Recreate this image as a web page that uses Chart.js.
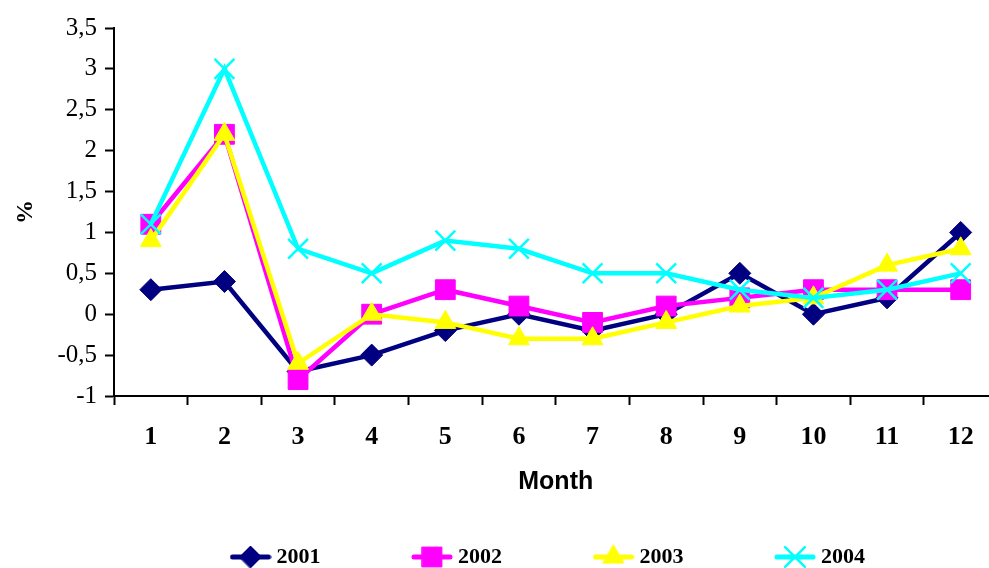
<!DOCTYPE html>
<html>
<head>
<meta charset="utf-8">
<script src="https://cdn.jsdelivr.net/npm/chart.js@4.4.1/dist/chart.umd.min.js"></script>
<style>
  html, body { margin: 0; padding: 0; background: #fff; overflow: hidden; }
  #lineChart { display: block; }
</style>
</head>
<body>
<!-- wider than the window: the last category runs off the right edge like in the original -->
<canvas id="lineChart" width="1014" height="578"></canvas>
<script>
// data
const months = ["1", "2", "3", "4", "5", "6", "7", "8", "9", "10", "11", "12"];
const years = ["2001", "2002", "2003", "2004"];
const y2001 = [0.3, 0.4, -0.7, -0.5, -0.2, 0, -0.2, 0, 0.5, 0, 0.2, 1.0];
const y2002 = [1.1, 2.2, -0.8, 0, 0.3, 0.1, -0.1, 0.1, 0.2, 0.3, 0.3, 0.3];
const y2003 = [0.9, 2.2, -0.6, 0, -0.1, -0.3, -0.3, -0.1, 0.1, 0.2, 0.6, 0.8];
const y2004 = [1.1, 3.0, 0.8, 0.5, 0.9, 0.8, 0.5, 0.5, 0.3, 0.2, 0.3, 0.5];

const colors = ["#000080", "#FF00FF", "#FFFF00", "#00FFFF"];
const styles = ["rectRot", "rect", "triangle", "crossRot"];
const radii = [11, 14, 12, 14];

// little line + marker picture for the legend
function legendIcon(i) {
  const c = document.createElement("canvas");
  c.width = 42;
  c.height = 26;
  const g = c.getContext("2d");
  g.strokeStyle = colors[i];
  g.fillStyle = colors[i];
  g.lineWidth = 5;
  g.lineCap = "round";
  g.beginPath();
  g.moveTo(3, 13);
  g.lineTo(39, 13);
  g.stroke();
  g.lineWidth = i === 3 ? 2.5 : 1;
  Chart.helpers.drawPoint(g, { pointStyle: styles[i], radius: radii[i], rotation: 0, borderWidth: g.lineWidth }, 21, 13);
  return c;
}

const series = [y2001, y2002, y2003, y2004];
const datasets = series.map((vals, i) => ({
  label: years[i],
  data: vals,
  borderColor: colors[i],
  backgroundColor: colors[i],
  borderWidth: 4.5,
  pointStyle: styles[i],
  pointRadius: radii[i],
  pointHoverRadius: radii[i],
  pointBorderWidth: i === 3 ? 2.5 : 1,
  pointBackgroundColor: colors[i],
  pointBorderColor: colors[i],
  tension: 0,
  order: 4 - i, // later years drawn on top
}));

const ctx = document.getElementById("lineChart").getContext("2d");
const myChart = new Chart(ctx, {
  type: "line",
  data: { labels: months, datasets: datasets },
  options: {
    responsive: false,
    animation: false,
    events: [],
    layout: { padding: { top: 28, right: 0, left: 0, bottom: 0 } },
    plugins: {
      tooltip: { enabled: false },
      legend: {
        position: "bottom",
        fullSize: false,
        labels: {
          usePointStyle: true,
          pointStyleWidth: 30,
          padding: 3,
          color: "#000",
          font: { family: "'Liberation Serif', 'Times New Roman', serif", size: 22, weight: "bold" },
          // spaces keep the items apart without growing the legend height
          generateLabels: (chart) =>
            chart.data.datasets.map((ds, i) => ({
              text: ds.label + " ".repeat(i < 3 ? 17 : 2),
              pointStyle: legendIcon(i),
              datasetIndex: i,
              fontColor: "#000",
              lineWidth: 0,
              hidden: false,
            })),
        },
      },
    },
    scales: {
      x: {
        offset: true,
        border: { color: "#000", width: 2 },
        grid: {
          offset: true,
          drawOnChartArea: false,
          tickLength: 9,
          tickWidth: 2,
          tickColor: "#000",
        },
        ticks: {
          color: "#000",
          padding: 0,
          maxRotation: 0,
          // tall line height pushes the labels down
          font: { family: "'Liberation Serif', 'Times New Roman', serif", size: 26, weight: "bold", lineHeight: 2.5 },
        },
        title: {
          display: true,
          text: "Month",
          color: "#000",
          padding: { top: 0, bottom: 46 },
          font: { family: "'Liberation Sans', Arial, sans-serif", size: 25, weight: "bold" },
        },
        afterFit: (scale) => {
          scale.height = 147;
        },
      },
      y: {
        min: -1,
        max: 3.5,
        border: { color: "#000", width: 2 },
        grid: {
          drawOnChartArea: false,
          tickLength: 9,
          tickWidth: 2,
          tickColor: "#000",
        },
        ticks: {
          stepSize: 0.5,
          color: "#000",
          padding: 8,
          font: { family: "'Liberation Serif', 'Times New Roman', serif", size: 25 },
          // decimal comma as in the original
          callback: (v) => String(v).replace(".", ","),
        },
        title: {
          display: true,
          text: "%",
          color: "#000",
          padding: { top: 11, bottom: 0 },
          font: { family: "'Liberation Serif', 'Times New Roman', serif", size: 24, weight: "bold" },
        },
        afterFit: (scale) => {
          scale.width = 114;
        },
      },
    },
  },
});
</script>
</body>
</html>
